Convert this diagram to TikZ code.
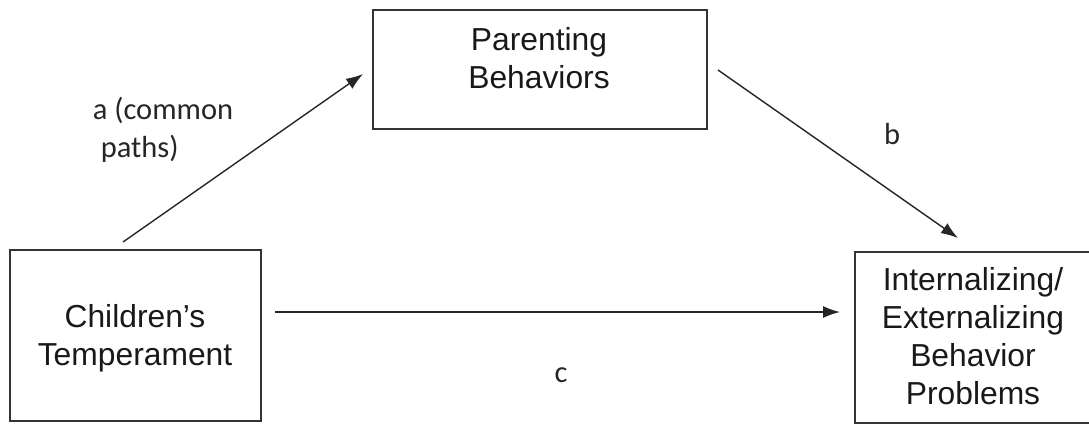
\documentclass[tikz,border=0pt]{standalone}
\usepackage{fontspec}
\setmainfont{Liberation Sans}
\newfontfamily\pathfont{Carlito}
\usetikzlibrary{arrows.meta}
\definecolor{boxgray}{HTML}{333333}
\begin{document}
\begin{tikzpicture}[
		x=1pt, y=-1pt,
		varbox/.style={
				draw=boxgray,
				line width=1.8pt,
				shape=rectangle,
				inner sep=0pt
			},
		vartext/.style={
				align=center,
				inner sep=0pt,
				text=black!90,
				font=\fontsize{31.8}{38}\selectfont
			},
		pathlbl/.style={
				inner sep=0pt,
				text=black!85,
				font=\pathfont\fontsize{30.5}{38.5}\selectfont
			},
		patharrow/.style={
				draw=black!85,
				line width=1.4pt,
				-{Latex[length=17pt,width=12pt]}
			},
	]
	\useasboundingbox (0,0) rectangle (1089,432);
	% boxes
	\node [varbox, minimum width=251, minimum height=171] (temp) at (135.5, 335.5) {};
	\node [varbox, minimum width=334, minimum height=119] (parent) at (540, 69.5) {};
	\node [varbox, minimum width=240, minimum height=171] (prob) at (975, 337.5) {};
	\node [vartext] (templbl) at (135, 338) {Children’s\\Temperament};
	\node [vartext] (parentlbl) at (539, 58) {Parenting\\Behaviors};
	\node [vartext] (problbl) at (973, 336) {Internalizing/\\Externalizing\\Behavior\\Problems};
	% arrow ends
	\coordinate (a0) at (123, 242);
	\coordinate (a1) at (363, 74);
	\coordinate (b0) at (718, 70);
	\coordinate (b1) at (958, 238);
	\coordinate (c0) at (275, 312);
	\coordinate (c1) at (840, 312);
	\draw [patharrow] (a0) -- (a1);
	\draw [patharrow] (b0) -- (b1);
	\draw [patharrow] (c0) -- (c1);
	% path labels
	\node [pathlbl, align=left] (alabel) at (163, 130) {a (common\\\hspace*{8pt}paths)};
	\node [pathlbl] (blabel) at (892, 134) {b};
	\node [pathlbl] (clabel) at (561, 375) {c};
\end{tikzpicture}
\end{document}
